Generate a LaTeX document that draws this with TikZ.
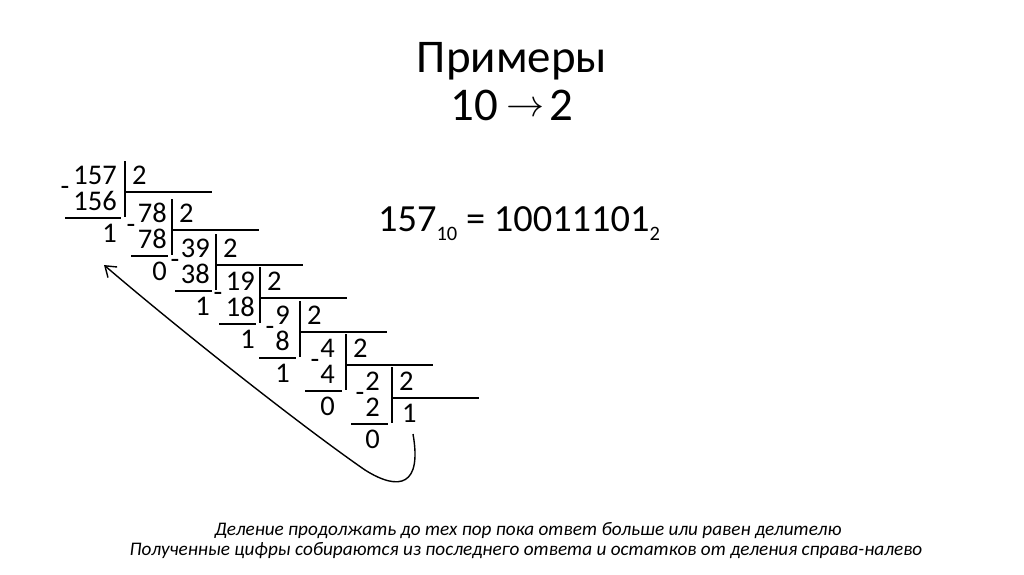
\documentclass[tikz,border=0pt]{standalone}
\usepackage{fontspec}
\setmainfont{Carlito}
\usetikzlibrary{arrows.meta}
\tikzset{
  dig/.style={font=\fontsize{28.5}{30}\selectfont, inner sep=0pt},
  rule/.style={line width=2pt},
  curvearrow/.style={line width=1.4pt, -{Straight Barb[length=10pt,width=14pt]}},
  titletext/.style={font=\fontsize{46.9}{50}\selectfont, inner sep=0pt, anchor=base},
  eqtext/.style={font=\fontsize{38.4}{40}\selectfont, inner sep=0pt, anchor=base west},
  notetext/.style={font=\fontsize{19.2}{21}\selectfont\itshape, inner sep=0pt, anchor=base}
}
\newcommand{\bigarrow}{\smash{\raisebox{3.5pt}{\scalebox{3.8}{\normalsize$\rightarrow$}}}}
\begin{document}
\begin{tikzpicture}[x=1pt,y=-1pt]
\useasboundingbox[fill=white] (0,0) rectangle (1024,574);
% title
\node[titletext] (t1) at (512,72) {Примеры};
\node[titletext] (t2) at (512,120) {10\hspace{8pt}\bigarrow\hspace{5pt}2};
% result
\node[eqtext] (eq) at (378,231) {157\raisebox{-9pt}{\fontsize{20.5}{22}\selectfont 10} = 10011101\raisebox{-9pt}{\fontsize{20.5}{22}\selectfont 2}};
% division steps
\foreach \k/\b/\h/\r/\dv/\sb/\rm/\ul/\mx in {
  0/125/192/117/157/156/1/56/65,
  1/172/230/167/78/78/0/37/131,
  2/216/265/210/39/38/1/37/175,
  3/260/298/255/19/18/1/37/218,
  4/300/332/290/9/8/1/37/270,
  5/346/365/335/4/4/0/37/315,
  6/392/398/380/2/2/0/37/360}{
  \node[dig, anchor=base east] (dv\k) at (\r,\h-8) {\dv};
  \node[dig, anchor=base west] (ds\k) at (\b+7,\h-8) {2};
  \node[dig, anchor=base east] (sb\k) at (\r,\h+18) {\sb};
  \node[dig, anchor=base east] (rm\k) at (\r,\h+50) {\rm};
  \node[dig, anchor=base] (mn\k) at (\mx,\h+3) {-};
  \draw[rule] (\b,\h-31) -- (\b,\h+25);
  \draw[rule] (\b,\h) -- (\b+87,\h);
  \draw[rule] (\b-4-\ul,\h+26) -- (\b-4,\h+26);
}
\node[dig, anchor=base west] (q6) at (402,422) {1};
% arrow collecting digits
\coordinate (cs) at (413,434);
\coordinate (cm) at (365,470);
\coordinate (ce) at (104,265);
\draw[curvearrow] (cs) .. controls (422,485) and (400,492) .. (cm) .. controls (300,425) and (180,330) .. (ce);
% notes
\node[notetext] (n1) at (528,535) {Деление продолжать до тех пор пока ответ больше или равен делителю};
\node[notetext] (n2) at (526,555) {Полученные цифры собираются из последнего ответа и остатков от деления справа-налево};
\end{tikzpicture}
\end{document}
